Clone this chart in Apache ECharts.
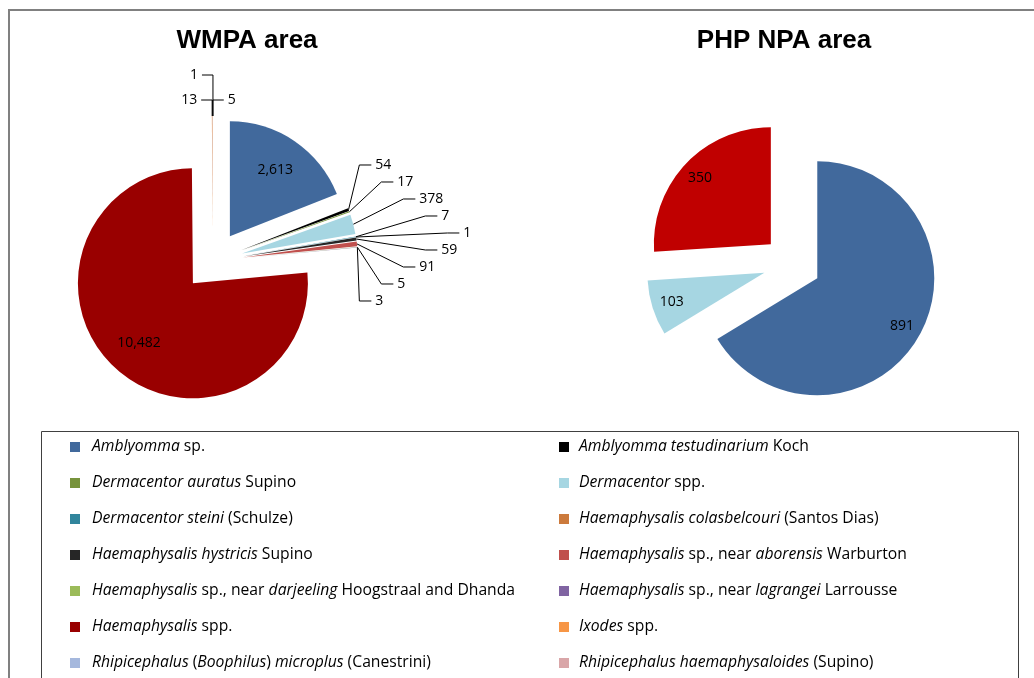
<!DOCTYPE html>
<html><head><meta charset="utf-8">
<script src="https://cdn.jsdelivr.net/npm/echarts@6/dist/echarts.min.js"></script>
<style>html,body{margin:0;padding:0;background:#fff}#c{width:1034px;height:678px}</style>
</head><body><div id="c"></div>
<script>
// ---- data ----
const categories = [
  'Amblyomma sp.',
  'Amblyomma testudinarium Koch',
  'Dermacentor auratus Supino',
  'Dermacentor spp.',
  'Dermacentor steini (Schulze)',
  'Haemaphysalis colasbelcouri (Santos Dias)',
  'Haemaphysalis hystricis Supino',
  'Haemaphysalis sp., near aborensis Warburton',
  'Haemaphysalis sp., near darjeeling Hoogstraal and Dhanda',
  'Haemaphysalis sp., near lagrangei Larrousse',
  'Haemaphysalis spp.',
  'Ixodes spp.',
  'Rhipicephalus (Boophilus) microplus (Canestrini)',
  'Rhipicephalus haemaphysaloides (Supino)'
];
const legendLabels = [
  '{i|Amblyomma} sp.',
  '{i|Amblyomma testudinarium} Koch',
  '{i|Dermacentor auratus} Supino',
  '{i|Dermacentor} spp.',
  '{i|Dermacentor steini} (Schulze)',
  '{i|Haemaphysalis colasbelcouri} (Santos Dias)',
  '{i|Haemaphysalis hystricis} Supino',
  '{i|Haemaphysalis} sp., near {i|aborensis} Warburton',
  '{i|Haemaphysalis} sp., near {i|darjeeling} Hoogstraal and Dhanda',
  '{i|Haemaphysalis} sp., near {i|lagrangei} Larrousse',
  '{i|Haemaphysalis} spp.',
  '{i|Ixodes} spp.',
  '{i|Rhipicephalus} ({i|Boophilus}) {i|microplus} (Canestrini)',
  '{i|Rhipicephalus haemaphysaloides} (Supino)'
];
const wmpaValues = [2613, 54, 17, 378, 7, 1, 59, 91, 5, 3, 10482, 13, 5, 1];
const phpCategories = ['Amblyomma sp.', 'Dermacentor spp.', 'Haemaphysalis spp.'];
const phpValues = [891, 103, 350];
const titles = ['WMPA area', 'PHP NPA area'];

// ---- styles ----
const colors = ['#41699C', '#000000', '#77933C', '#A6D6E2', '#31859C', '#CC7A3C', '#262626',
  '#C0504D', '#9BBB59', '#8064A2', '#990000', '#F79646', '#A5B8DD', '#D9A6A8'];
const phpColors = ['#41699C', '#A6D6E2', '#C00000'];
const geo = [
  { center: [213, 261], r: 115, off: 30, ratio: 0.7, titleX: 247 },
  { center: [792, 264], r: 117, off: 29, ratio: 0.83, titleX: 784 }
];
const FONT = '"Open Sans", "Noto Sans", sans-serif';
const LEGEND_SIZE = 15.7;

const chart = echarts.init(document.getElementById('c'), null, { renderer: 'canvas' });

const tot0 = wmpaValues.reduce((a, b) => a + b, 0);
const mids = [];
(function () { let c = 0; wmpaValues.forEach(v => { mids.push((c + v / 2) / tot0 * 2 * Math.PI); c += v; }); })();
const dirOf = a => [Math.sin(a), -Math.cos(a)];

function isInside(si, idx) {
  if (si === 1) return true;
  return wmpaValues[idx] / tot0 > 0.1;
}

// label groups for the small WMPA slices
const rightGroup = wmpaValues.map((v, i) => i).filter(i => !isInside(0, i) && mids[i] < Math.PI);
const topGroup = wmpaValues.map((v, i) => i).filter(i => !isInside(0, i) && mids[i] >= Math.PI);

function edgePoint(i) {
  const g = geo[0], d = dirOf(mids[i]);
  return [g.center[0] + (g.r + g.off) * d[0], g.center[1] + (g.r + g.off) * d[1]];
}

function outsideLayout(i, rect) {
  const g = geo[0], d = dirOf(mids[i]);
  const sx = g.off * d[0], sy = g.off * d[1];
  const E = edgePoint(i);
  let pts, x, y, side;
  if (rightGroup.indexOf(i) >= 0) {
    const n = rightGroup.length, k = rightGroup.indexOf(i), h = 17, fan = 22;
    const ys = rightGroup.map(j => edgePoint(j)[1]);
    const xs = rightGroup.map(j => edgePoint(j)[0]);
    const cy = ys.reduce((a, b) => a + b, 0) / n;
    const mx = Math.max.apply(null, xs);
    y = cy + (k - (n - 1) / 2) * h;
    x = mx + 18 + fan * ((n - 1) / 2 - Math.abs(k - (n - 1) / 2));
    side = 1;
    pts = [E, [x - 16, y], [x - 4, y]];
  } else {
    const k = topGroup.indexOf(i);
    const row = Math.floor(k / 2);
    side = k % 2 ? 1 : -1;
    y = E[1] - 16 - 25 * row;
    x = E[0] + side * 15;
    pts = [E, [E[0], y], [E[0] + side * 11, y]];
  }
  // rect is in un-offset space; the selection offset is added afterwards
  const curX = side > 0 ? rect.x : rect.x + rect.width;
  const curY = rect.y + rect.height / 2;
  return {
    dx: (x - sx) - curX, dy: (y - sy) - curY,
    labelLinePoints: pts.map(p => [p[0] - sx, p[1] - sy])
  };
}

function makeLayout(si) {
  return function (p) {
    if (!isInside(si, p.dataIndex)) return outsideLayout(p.dataIndex, p.labelRect);
    const g = geo[si];
    const lx = p.labelRect.x + p.labelRect.width / 2;
    const ly = p.labelRect.y + p.labelRect.height / 2;
    const vx = lx - g.center[0], vy = ly - g.center[1];
    const d = Math.hypot(vx, vy) || 1;
    const want = g.ratio * g.r;
    return { dx: vx / d * (want - d), dy: vy / d * (want - d) };
  };
}

const fmt = p => p.value.toLocaleString('en-US');
const labelStyle = { fontFamily: FONT, fontSize: 14, color: '#000' };

const wmpaData = categories.map((n, i) => ({
  name: n, value: wmpaValues[i], selected: true,
  itemStyle: { color: colors[i] },
  label: isInside(0, i) ? { position: 'inside' } : { position: 'outside' },
  labelLine: { show: !isInside(0, i) }
}));
const phpData = phpCategories.map((n, i) => ({
  name: n, value: phpValues[i], selected: true,
  itemStyle: { color: phpColors[i] }
}));

const option = {
  animation: false,
  backgroundColor: '#fff',
  graphic: [
    { type: 'rect', shape: { x: 9, y: 10, width: 1100, height: 1000 }, style: { fill: 'none', stroke: '#808080', lineWidth: 2 }, silent: true },
    { type: 'rect', shape: { x: 41.5, y: 431.5, width: 977, height: 400 }, style: { fill: 'none', stroke: '#404040', lineWidth: 1 }, silent: true },
    ...titles.map((t, i) => ({
      type: 'text', x: geo[i].titleX, y: 41,
      style: { text: t, fill: '#000', font: 'bold 26px "Liberation Sans", Arial, sans-serif', align: 'center', verticalAlign: 'middle', textAlign: 'center', textVerticalAlign: 'middle' }
    }))
  ],
  legend: [0, 1].map(col => ({
    orient: 'vertical', left: col ? 559 : 70, top: 438, padding: 0,
    itemWidth: 10, itemHeight: 10, itemGap: 18, icon: 'rect', selectedMode: false,
    data: categories.filter((_, i) => i % 2 === col),
    formatter: name => legendLabels[categories.indexOf(name)],
    textStyle: {
      fontFamily: FONT, fontSize: LEGEND_SIZE, color: '#000', lineHeight: 18, padding: [0, 0, 0, col ? 5 : 7],
      rich: { i: { fontFamily: FONT, fontSize: LEGEND_SIZE, color: '#000', fontStyle: 'italic', lineHeight: 18 } }
    }
  })),
  series: [
    {
      type: 'pie', name: titles[0], center: geo[0].center, radius: geo[0].r,
      selectedMode: 'multiple', selectedOffset: geo[0].off, startAngle: 90, clockwise: true,
      avoidLabelOverlap: false, emphasis: { disabled: true },
      label: Object.assign({ formatter: fmt }, labelStyle),
      labelLine: { show: true, length: 12, length2: 14, lineStyle: { color: '#000', width: 1 } },
      labelLayout: makeLayout(0),
      data: wmpaData
    },
    {
      type: 'pie', name: titles[1], center: geo[1].center, radius: geo[1].r,
      selectedMode: 'multiple', selectedOffset: geo[1].off, startAngle: 90, clockwise: true,
      emphasis: { disabled: true },
      label: Object.assign({ formatter: fmt, position: 'inside' }, labelStyle),
      labelLine: { show: false },
      labelLayout: makeLayout(1),
      data: phpData
    }
  ]
};
chart.setOption(option);
</script>
</body></html>
